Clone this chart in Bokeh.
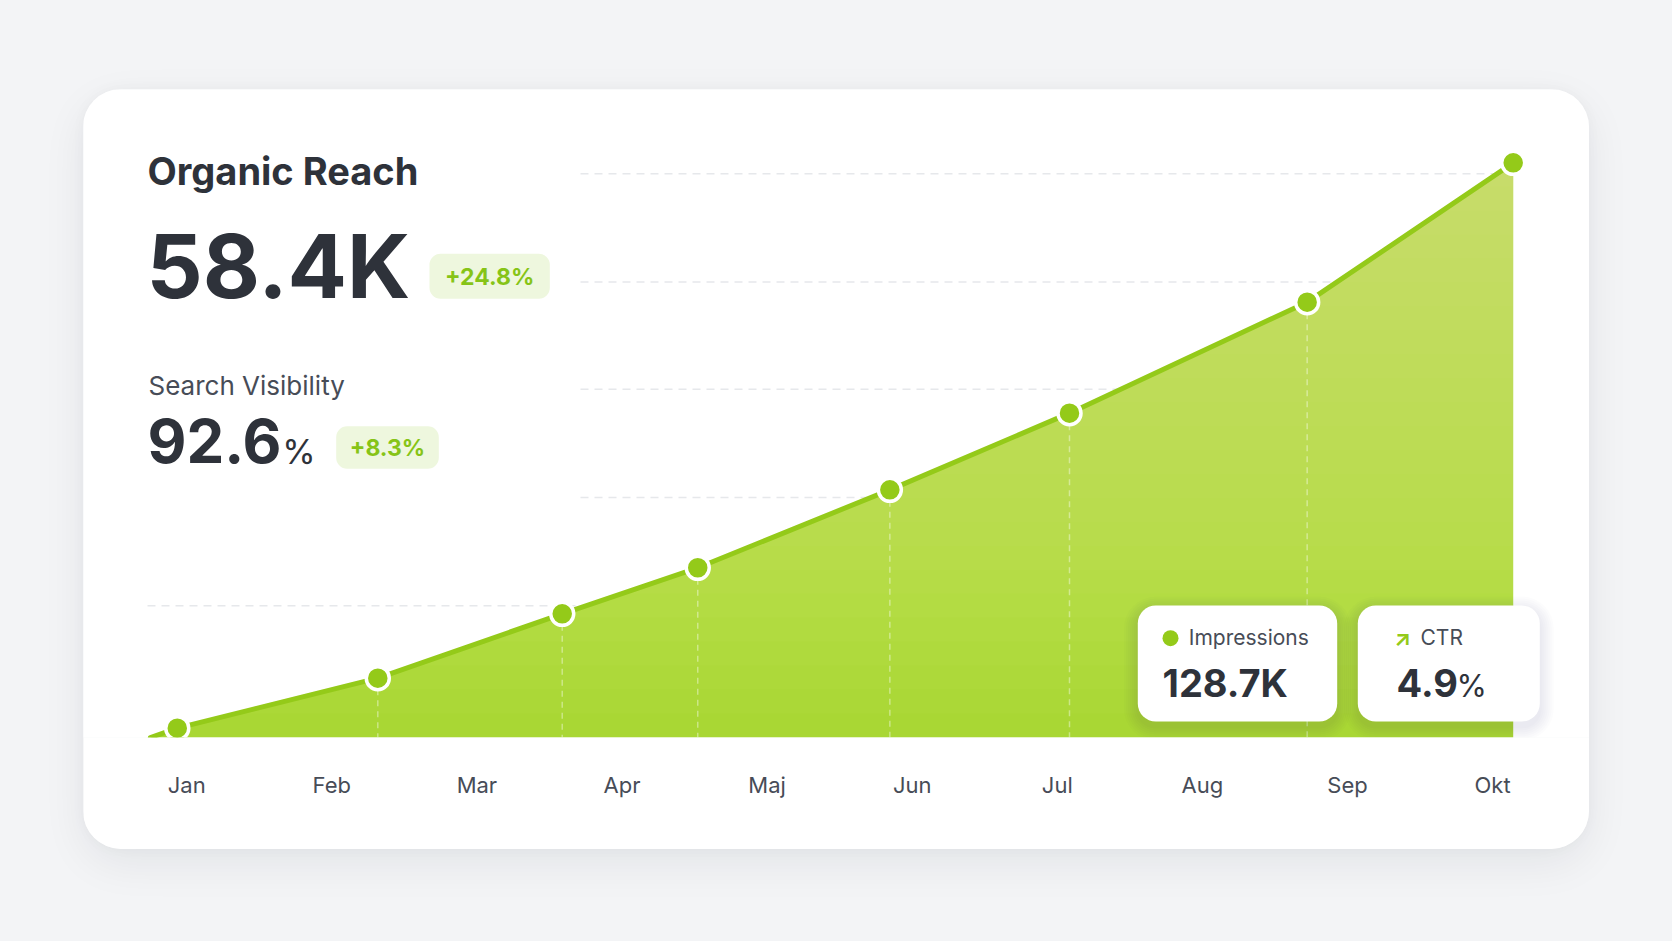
import numpy as np
from bokeh.plotting import figure
from bokeh.models import Range1d, FixedTicker, GlobalInlineStyleSheet
from bokeh.core.properties import value
from bokeh.embed import file_html
from bokeh.resources import INLINE

# ---------------- data ----------------
months = ["Jan", "Feb", "Mar", "Apr", "Maj", "Jun", "Jul", "Aug", "Sep", "Okt"]
point_pos = [-0.065, 1.317, 2.588, 3.522, 4.846, 6.084, 7.722, 9.142]   # position on month axis
reach_k = [0.95, 6.03, 12.57, 17.25, 25.17, 32.96, 44.24, 58.4]          # organic reach (K)
start_pos = -0.25
start_val = 0.0
grid_levels = [13.4, 24.4, 35.4, 46.3, 57.3]

title_text = "Organic Reach"
reach_total = "58.4K"
reach_change = "+24.8%"
vis_title = "Search Visibility"
vis_value = "92.6"
vis_change = "+8.3%"
imp_label = "Impressions"
imp_value = "128.7K"
ctr_label = "CTR"
ctr_value = "4.9"

# ---------------- style ----------------
BG = "#f3f4f6"
DARK = "#2e323a"
MUTED = "#474c57"
GREEN = "#94ca19"
AREA = "#a9d734"
AREA_LIGHT = "#f2fcbc"
BADGE = "#eef7de"
BADGE_TXT = "#86c417"
FONT = value("Inter")

# card geometry (page pixels)
CARD_L, CARD_T, CARD_W, CARD_H = 83, 89, 1506, 760
BASE_Y = 737                      # page y of the chart baseline
FRAME_H = BASE_Y - CARD_T
X0, DX = 186.2, 145.1   # page px of month 0, px per month
Y0, DY = 737.0, 9.84    # page px of value 0, px per unit


def X(px):
    return (px - X0) / DX


def Y(py):
    return (Y0 - py) / DY


p = figure(width=CARD_W, height=CARD_H, output_backend="svg", toolbar_location=None,
           x_range=Range1d(X(CARD_L), X(CARD_L + CARD_W)),
           y_range=Range1d(Y(BASE_Y), Y(CARD_T)),
           y_axis_location=None,
           min_border_left=0, min_border_right=0, min_border_top=0,
           min_border_bottom=CARD_H - FRAME_H)
p.background_fill_color = "white"
p.border_fill_color = "white"
p.outline_line_color = None
p.xgrid.visible = False
p.ygrid.visible = False
p.margin = (CARD_T, 0, 0, CARD_L)
p.styles = {"border-radius": "38px", "overflow": "hidden",
            "box-shadow": "0 14px 44px rgba(17, 24, 39, 0.07), 0 0 14px rgba(17, 24, 39, 0.03)"}
p.stylesheets = [GlobalInlineStyleSheet(css="html, body { background: %s; margin: 0; padding: 0; }" % BG)]

# ---------------- grid lines ----------------
gx0 = [X(147) if i == 0 else X(580) for i in range(len(grid_levels))]
p.segment(x0=gx0, y0=grid_levels, x1=[point_pos[-1]] * len(grid_levels), y1=grid_levels,
          line_color="#e6e8eb", line_width=1.5, line_dash="8 6")

# ---------------- area with vertical gradient ----------------
lx = [start_pos] + point_pos
ly = [start_val] + reach_k
p.patch(lx + [point_pos[-1]], ly + [start_val], fill_color=AREA, line_color=None)
top = reach_k[-1]
N = 24
xs_l, ys_l = [], []
for k in range(1, N):
    t = top * k / N
    xc = float(np.interp(t, ly, lx))
    px_ = [xc] + [x for x, v in zip(lx, ly) if v > t] + [point_pos[-1]]
    py_ = [t] + [v for v in ly if v > t] + [t]
    xs_l.append(px_)
    ys_l.append(py_)
p.patches(xs_l, ys_l, fill_color=AREA_LIGHT, fill_alpha=0.027, line_color=None)

# vertical drop lines
p.segment(x0=point_pos[1:-1], y0=reach_k[1:-1], x1=point_pos[1:-1], y1=[0] * (len(point_pos) - 2),
          line_color="white", line_alpha=0.4, line_width=1.5, line_dash="6 5")

# line + markers
p.line(lx, ly, line_color=GREEN, line_width=5, line_join="round", line_cap="round")
p.scatter(point_pos, reach_k, size=23, fill_color=GREEN, line_color="white", line_width=3.5)


# ---------------- helpers ----------------
def txt(x, y, s, size, color, style="normal", align="left"):
    p.text(x=[X(x)], y=[Y(y)], text=[s], text_font=FONT, text_font_size=size,
           text_font_style=style, text_color=color, text_align=align, text_baseline="middle")


def rbox(l, r, t, b, color, radius, alpha=1.0):
    p.quad(left=[X(l)], right=[X(r)], top=[Y(t)], bottom=[Y(b)], fill_color=color,
           fill_alpha=alpha, line_color=None, border_radius=radius)


# ---------------- headline texts ----------------
txt(147, 170.5, title_text, "38px", DARK, "bold")
txt(146, 265.7, reach_total, "88px", DARK, "bold")
rbox(429, 549.3, 253.3, 298.3, BADGE, 11)
txt(489.2, 276.5, reach_change, "23px", BADGE_TXT, "bold", "center")

txt(148, 385, vis_title, "26px", MUTED)
txt(147, 440.4, vis_value, "60px", DARK, "bold")
txt(281.7, 451.2, "%", "34px", DARK)
rbox(335.7, 438.3, 425.7, 468.3, BADGE, 11)
txt(387, 447.5, vis_change, "23px", BADGE_TXT, "bold", "center")

# ---------------- mini cards ----------------
for (l, r) in [(1137.3, 1336.7), (1357.3, 1539.3)]:
    for k in range(1, 8):
        e = 2 * k
        rbox(l - e, r + e, 605 - e + 5, 721 + e + 5, "#1f2937", 18 + e, 0.012)
for (l, r) in [(1137.3, 1336.7), (1357.3, 1539.3)]:
    rbox(l, r, 605, 721, "white", 18)

p.scatter([X(1170)], [Y(637.7)], size=16, fill_color=GREEN, line_color=None)
txt(1188.3, 637.2, imp_label, "21px", MUTED)
txt(1162, 682.3, imp_value, "38px", DARK, "bold")

txt(1402, 637.0, "\u2197", "22px", GREEN, "bold", "center")
txt(1420, 637.2, ctr_label, "21px", MUTED)
txt(1396, 682.3, ctr_value, "38px", DARK, "bold")
txt(1456, 685.3, "%", "31px", DARK)

# ---------------- x axis ----------------
ax = p.xaxis[0]
ax.ticker = FixedTicker(ticks=list(range(len(months))))
ax.major_label_overrides = {i: m for i, m in enumerate(months)}
ax.axis_line_color = None
ax.major_tick_line_color = None
ax.minor_tick_line_color = None
ax.major_tick_out = 0
ax.major_tick_in = 0
ax.major_label_standoff = 34
ax.major_label_text_font = "Inter"
ax.major_label_text_font_size = "22px"
ax.major_label_text_color = MUTED

open("out.html", "w").write(file_html(p, INLINE))
